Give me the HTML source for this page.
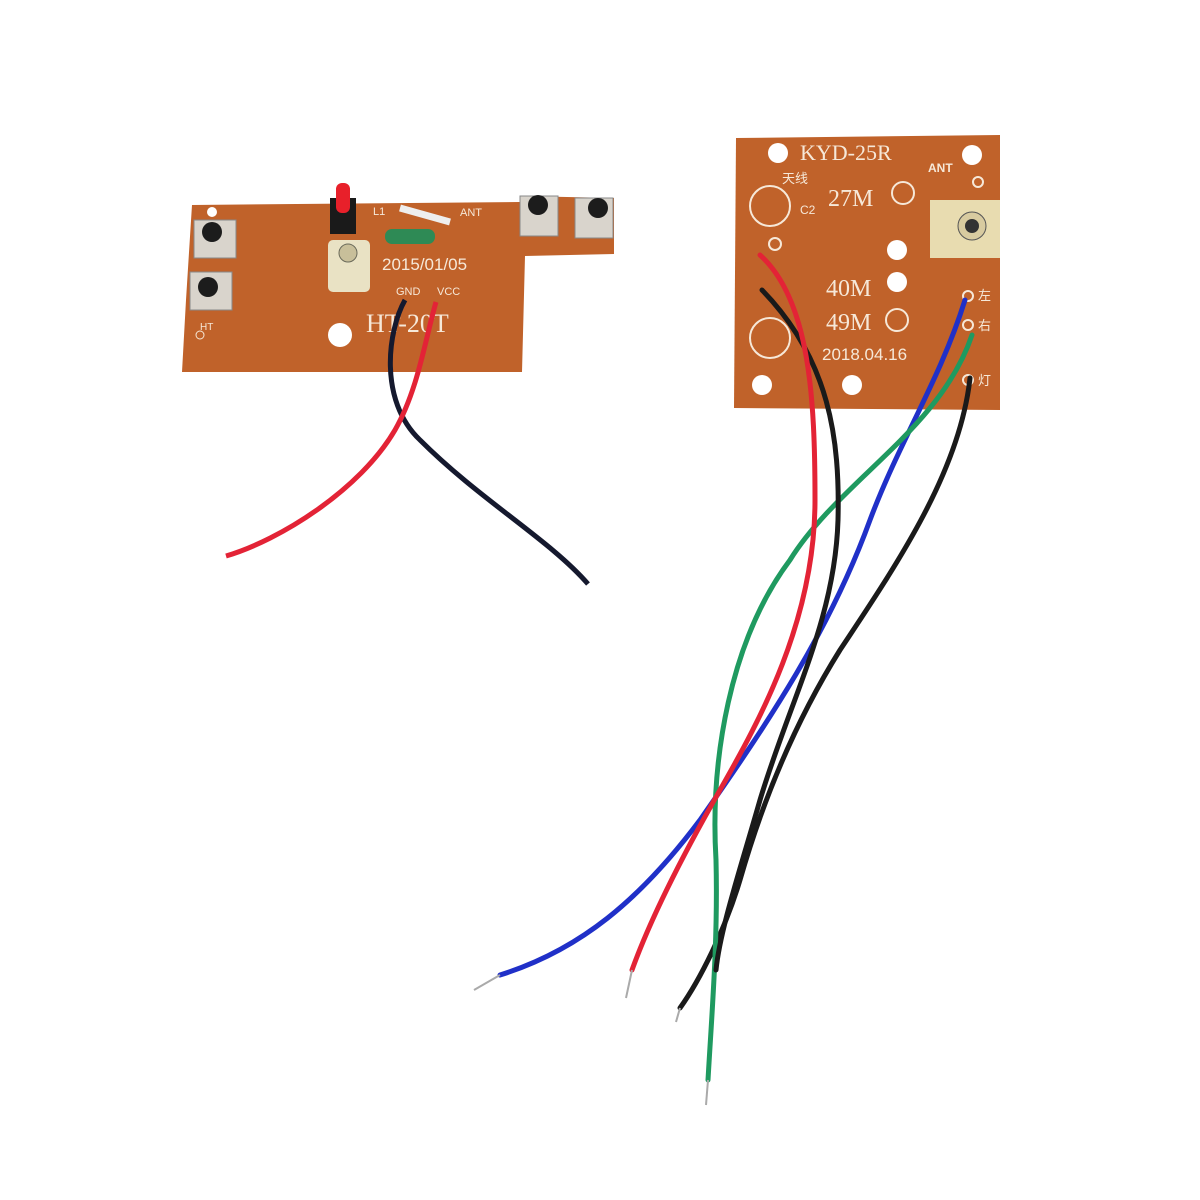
<!DOCTYPE html>
<html><head><style>body{margin:0;background:#fff}svg{display:block}text{font-family:"Liberation Serif","Noto Serif CJK SC",serif;fill:#f6e8d8}</style></head>
<body>
<svg width="1200" height="1200" viewBox="0 0 1200 1200" xmlns="http://www.w3.org/2000/svg">
<!-- Left board -->
<path d="M192,205 L520,202 L520,196 L614,198 L614,254 L525,256 L522,372 L182,372 L186,300 Z" fill="#c0622a"/>
<circle cx="212" cy="212" r="5" fill="#fff"/>
<circle cx="340" cy="335" r="12" fill="#fff"/>
<circle cx="200" cy="335" r="4" fill="none" stroke="#f6e8d8"/>
<!-- buttons -->
<g fill="#d9d4cc" stroke="#888">
<rect x="194" y="220" width="42" height="38"/><rect x="190" y="272" width="42" height="38"/>
<rect x="520" y="196" width="38" height="40"/><rect x="575" y="198" width="38" height="40"/>
</g>
<g fill="#1c1c1c">
<circle cx="212" cy="232" r="10"/><circle cx="208" cy="287" r="10"/>
<circle cx="538" cy="205" r="10"/><circle cx="598" cy="208" r="10"/>
</g>
<!-- LED -->
<rect x="330" y="198" width="26" height="36" fill="#1a1a1a"/>
<rect x="336" y="183" width="14" height="30" rx="6" fill="#e8202a"/>
<!-- pot -->
<rect x="328" y="240" width="42" height="52" rx="5" fill="#e9e2c4"/>
<circle cx="348" cy="253" r="9" fill="#c8bf9a" stroke="#6a6a5a"/>
<!-- inductor and wire -->
<path d="M400,208 L450,222" stroke="#eee" stroke-width="7"/>
<rect x="385" y="229" width="50" height="15" rx="7" fill="#2e8a55"/>
<text x="382" y="270" font-size="17" style="font-family:'Liberation Sans',sans-serif">2015/01/05</text>
<text x="373" y="215" font-size="11" style="font-family:'Liberation Sans',sans-serif">L1</text>
<text x="460" y="216" font-size="11" style="font-family:'Liberation Sans',sans-serif">ANT</text>
<text x="396" y="295" font-size="11" style="font-family:'Liberation Sans',sans-serif">GND</text>
<text x="437" y="295" font-size="11" style="font-family:'Liberation Sans',sans-serif">VCC</text>
<text x="366" y="332" font-size="26">HT-20T</text>
<text x="200" y="330" font-size="10" style="font-family:'Liberation Sans',sans-serif">HT</text>
<!-- Left wires -->
<path d="M405,300 C388,330 378,400 420,440 C480,500 550,540 588,584" fill="none" stroke="#15192e" stroke-width="5"/>
<path d="M436,302 C425,340 418,390 395,430 C360,490 280,540 226,556" fill="none" stroke="#e32336" stroke-width="5"/>
<!-- Right board -->
<path d="M736,138 L1000,135 L1000,410 L734,408 Z" fill="#c0622a"/>
<g fill="#fff"><circle cx="778" cy="153" r="10"/><circle cx="972" cy="155" r="10"/><circle cx="897" cy="250" r="10"/><circle cx="897" cy="282" r="10"/><circle cx="762" cy="385" r="10"/><circle cx="852" cy="385" r="10"/></g>
<g fill="none" stroke="#f6e8d8" stroke-width="2"><circle cx="903" cy="193" r="11"/><circle cx="897" cy="320" r="11"/><circle cx="770" cy="206" r="20"/><circle cx="770" cy="338" r="20"/><circle cx="775" cy="244" r="6"/><circle cx="968" cy="296" r="5"/><circle cx="968" cy="325" r="5"/><circle cx="968" cy="380" r="5"/><circle cx="978" cy="182" r="5"/></g>
<rect x="930" y="200" width="70" height="58" fill="#e8dcb0"/>
<circle cx="972" cy="226" r="14" fill="#d8cba0" stroke="#555"/>
<circle cx="972" cy="226" r="7" fill="#333"/>
<text x="800" y="160" font-size="22">KYD-25R</text>
<text x="928" y="172" font-size="12" style="font-family:'Liberation Sans',sans-serif;font-weight:bold">ANT</text>
<text x="782" y="183" font-size="13" style="font-family:'Liberation Sans','Noto Sans CJK SC',sans-serif">天线</text>
<text x="800" y="214" font-size="12" style="font-family:'Liberation Sans',sans-serif">C2</text>
<text x="828" y="206" font-size="24">27M</text>
<text x="826" y="296" font-size="24">40M</text>
<text x="826" y="330" font-size="24">49M</text>
<text x="822" y="360" font-size="17" style="font-family:'Liberation Sans',sans-serif">2018.04.16</text>
<text x="978" y="300" font-size="13" style="font-family:'Liberation Sans','Noto Sans CJK SC',sans-serif">左</text>
<text x="978" y="330" font-size="13" style="font-family:'Liberation Sans','Noto Sans CJK SC',sans-serif">右</text>
<text x="978" y="385" font-size="13" style="font-family:'Liberation Sans','Noto Sans CJK SC',sans-serif">灯</text>
<!-- Right wires -->
<g fill="none" stroke-width="5" stroke-linecap="round">
<path d="M970,378 C960,470 900,560 840,650 C790,730 760,810 740,880 C725,930 700,980 680,1008" stroke="#1a1a1a"/>
<path d="M965,300 C940,380 900,440 870,520 C830,630 770,720 700,820 C640,900 580,950 500,975" stroke="#2030c8"/>
<path d="M972,335 C940,430 840,480 790,560 C730,640 710,760 716,860 C718,940 712,1010 708,1080" stroke="#1f9a60"/>
<path d="M762,290 C830,360 840,440 838,520 C835,620 790,700 760,800 C740,870 720,930 716,970" stroke="#1a1a1a"/>
<path d="M760,255 C810,300 815,400 815,500 C815,620 760,720 720,790 C680,860 650,920 632,970" stroke="#e32336"/>
</g>
<g stroke="#aaa" stroke-width="2"><path d="M500,975 L474,990"/><path d="M632,970 L626,998"/><path d="M680,1008 L676,1022"/><path d="M708,1080 L706,1105"/></g>
</svg>
</body></html>
